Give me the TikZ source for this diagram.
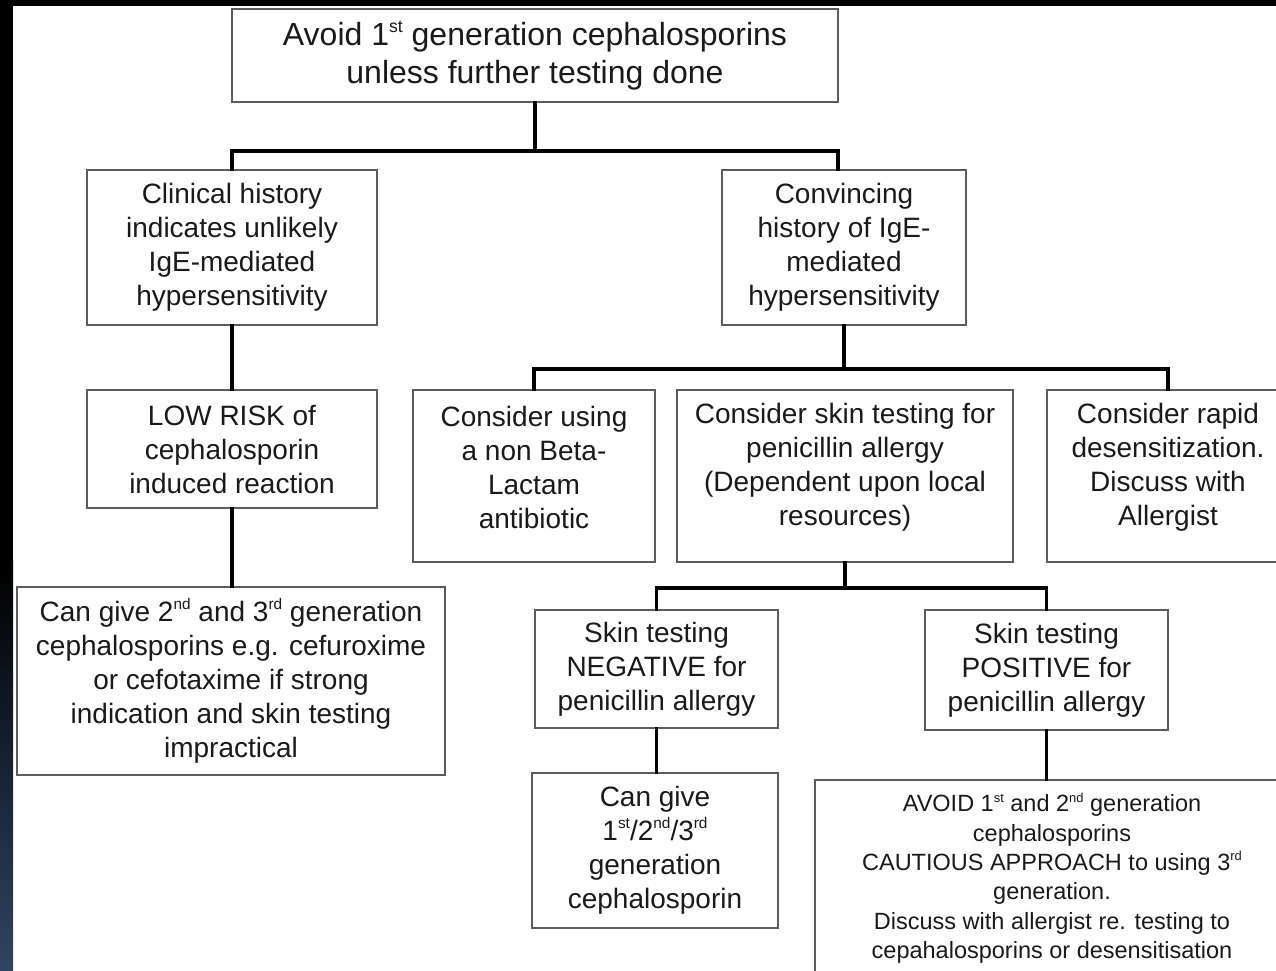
\documentclass[tikz,border=0pt]{standalone}
\usepackage{fontspec}
\setmainfont{Liberation Sans}
\usetikzlibrary{calc}
\definecolor{boxgray}{HTML}{5C5C5C}
\definecolor{navyband}{HTML}{2F4463}
\definecolor{txtcol}{HTML}{1A1A1A}
\newcommand\fsTop{\fontsize{32}{38}\selectfont}
\newcommand\fsMid{\fontsize{28}{34}\selectfont}
\newcommand\fsSmall{\fontsize{23.5}{29.3}\selectfont}
\newcommand\sups[1]{\raisebox{0.8ex}{\scalebox{0.55}{#1}}}
\begin{document}
\begin{tikzpicture}[x=1pt,y=-1pt,
  box/.style={draw=boxgray, line width=2.5pt, fill=white, align=center, inner sep=0pt, text=txtcol, font=\fsMid},
  boxtext/.style={align=center, inner sep=0pt, text=txtcol, font=\fsMid},
  conn/.style={line width=3.8pt, black, line cap=rect}]
\useasboundingbox (0,0) rectangle (1276,970);
\clip (0,0) rectangle (1276,970);
\fill[white] (0,0) rectangle (1276,970);
% frame bands
\fill[black] (0,0) rectangle (1276,6);
\fill[black] (0,0) rectangle (13,560);
\shade[top color=black, bottom color=navyband] (0,560) rectangle (13,970);

% boxes
\node[box, font=\fsTop, minimum width=606pt, minimum height=93pt] (top) at (535,55.5)
  {Avoid 1\sups{st} generation cephalosporins\\unless further testing done};
\node[box, minimum width=290pt, minimum height=155pt] (clin) at (232,247.5)
  {Clinical history\\indicates unlikely\\IgE-mediated\\hypersensitivity};
\node[box, minimum width=244pt, minimum height=155pt] (conv) at (844,247.5)
  {Convincing\\history of IgE-\\mediated\\hypersensitivity};
\node[box, minimum width=290pt, minimum height=118pt] (low) at (232,449)
  {LOW RISK of\\cephalosporin\\induced reaction};
\node[box, minimum width=428pt, minimum height=188pt] (cangive) at (231,681)
  {Can give 2\sups{nd} and 3\sups{rd} generation\\cephalosporins e.g. cefuroxime\\or cefotaxime if strong\\indication and skin testing\\impractical};

\node[box, minimum width=242pt, minimum height=172pt] (nonbeta) at (534,476) {};
\node[boxtext] (nonbetatext) at ($(nonbeta.center)+(0,-9)$)
  {Consider using\\a non Beta-\\Lactam\\antibiotic};
\node[box, minimum width=336pt, minimum height=172pt] (skin) at (845,476) {};
\node[boxtext] (skintext) at ($(skin.center)+(0,-9)$)
  {Consider skin testing for\\penicillin allergy\\(Dependent upon local\\resources)};
\node[box, minimum width=242pt, minimum height=172pt] (rapid) at (1168,476) {};
\node[boxtext] (rapidtext) at ($(rapid.center)+(0,-9)$)
  {Consider rapid\\desensitization.\\Discuss with\\Allergist};

\node[box, minimum width=243pt, minimum height=118pt] (neg) at (656.5,669)
  {Skin testing\\NEGATIVE for\\penicillin allergy};
\node[box, minimum width=243pt, minimum height=120pt] (pos) at (1046.5,670)
  {Skin testing\\POSITIVE for\\penicillin allergy};
\node[box, minimum width=246pt, minimum height=155pt] (cangivetwo) at (655,850.5)
  {Can give\\1\sups{st}/2\sups{nd}/3\sups{rd}\\generation\\cephalosporin};
\node[box, font=\fsSmall, minimum width=474pt, minimum height=196pt] (avoid) at (1052,878)
  {AVOID 1\sups{st} and 2\sups{nd} generation\\cephalosporins\\CAUTIOUS APPROACH to using 3\sups{rd}\\generation.\\Discuss with allergist re. testing to\\cepahalosporins or desensitisation};

% connectors
\draw[conn] (top.south) -- ++(0,48) coordinate (jone);
\draw[conn] (clin.north) |- (jone) -| ($(conv.north)+(-6,0)$);
\draw[conn] (clin.south) -- (low.north);
\draw[conn] (low.south) -- (cangive.north -| low.south);
\draw[conn] (conv.south) -- ++(0,43) coordinate (jtwo);
\draw[conn] (nonbeta.north) |- (jtwo) -| (rapid.north);
\draw[conn] (skin.south) -- ++(0,25) coordinate (jthree);
\draw[conn] (neg.north) |- (jthree) -| (pos.north);
\draw[conn] (neg.south) -- (cangivetwo.north -| neg.south);
\draw[conn] (pos.south) -- (avoid.north -| pos.south);
\end{tikzpicture}
\end{document}
